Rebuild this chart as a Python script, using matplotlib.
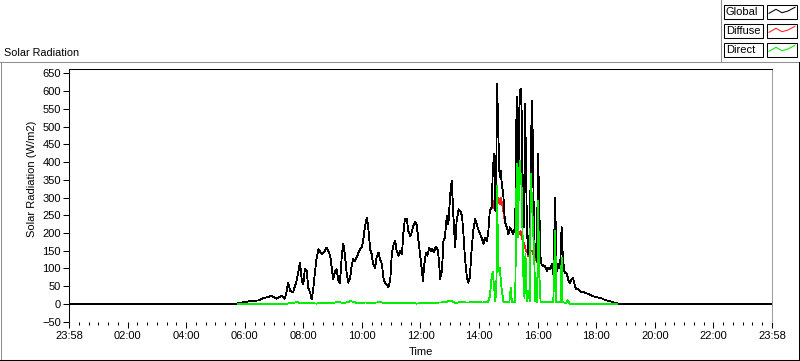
import matplotlib.pyplot as plt
from matplotlib.lines import Line2D
from matplotlib.patches import Rectangle
from matplotlib.ticker import FixedLocator

# minutes after midnight, 23:58 -> 23:58
global_min = [-2, 340, 345, 365, 386, 396, 413, 423, 434, 440,
              444, 447, 451, 457, 464, 468, 471, 475, 478, 481,
              485, 488, 492, 495, 498, 502, 505, 509, 516, 522,
              526, 529, 533, 536, 539, 543, 546, 550, 553, 557,
              560, 563, 567, 570, 574, 577, 580, 584, 587, 591,
              594, 598, 601, 604, 608, 611, 615, 618, 621, 625,
              628, 632, 635, 639, 642, 645, 649, 652, 656, 659,
              662, 666, 669, 673, 676, 680, 683, 686, 690, 693,
              697, 700, 703, 707, 710, 714, 717, 721, 723, 725,
              729, 732, 736, 739, 742, 746, 749, 753, 756, 758,
              762, 765, 768, 772, 775, 779, 782, 785, 789, 792,
              796, 799, 803, 806, 809, 813, 816, 819, 823, 826,
              830, 833, 836, 840, 843, 847, 850, 854, 857, 860,
              864, 866, 869, 871, 873, 874, 875, 877, 880, 882,
              884, 888, 891, 895, 898, 901, 905, 908, 912, 915,
              917, 918, 921, 923, 925, 927, 930, 932, 934, 936,
              939, 942, 946, 948, 951, 953, 956, 959, 961, 964,
              966, 970, 973, 977, 980, 983, 987, 990, 994, 996,
              998, 1000, 1004, 1007, 1009, 1012, 1014, 1018, 1021, 1024,
              1028, 1030, 1033, 1035, 1038, 1041, 1045, 1048, 1052, 1055,
              1059, 1062, 1069, 1076, 1082, 1089, 1096, 1103, 1110, 1117,
              1123, 1127, 1438]
global_val = [0, 0, 2, 7, 10, 16, 23, 15, 23, 15,
              37, 60, 37, 32, 65, 93, 117, 65, 56, 98,
              93, 46, 32, 13, 37, 93, 126, 154, 141, 150,
              159, 150, 136, 102, 70, 93, 98, 65, 60, 140,
              169, 140, 84, 60, 74, 107, 126, 121, 131, 145,
              154, 160, 183, 215, 244, 215, 154, 140, 112, 102,
              131, 145, 126, 112, 74, 60, 54, 48, 65, 136,
              164, 178, 150, 136, 150, 141, 201, 239, 239, 206,
              192, 201, 220, 230, 225, 178, 141, 93, 65, 102,
              145, 136, 159, 150, 154, 145, 161, 154, 121, 70,
              93, 178, 187, 249, 225, 310, 347, 258, 159, 234,
              267, 263, 249, 197, 131, 74, 60, 74, 159, 206,
              239, 225, 211, 197, 187, 169, 187, 178, 206, 263,
              272, 376, 423, 263, 300, 536, 621, 498, 357, 376,
              347, 300, 230, 216, 197, 216, 206, 197, 216, 583,
              470, 282, 592, 607, 555, 263, 216, 564, 413, 206,
              140, 216, 573, 470, 140, 169, 121, 423, 282, 131,
              112, 107, 107, 93, 102, 98, 112, 84, 300, 112,
              93, 112, 102, 216, 150, 93, 88, 84, 65, 60,
              70, 74, 60, 46, 41, 41, 37, 32, 34, 32,
              29, 27, 23, 20, 18, 16, 11, 9, 6, 3,
              1, 0, 0]

# diffuse follows global except under the sunny spikes
diffuse_cut = {866: 270, 869: 290, 873: 280, 874: 300, 875: 290, 877: 300,
               880: 280, 882: 300, 884: 290, 888: 260, 915: 200, 917: 210,
               918: 195, 921: 200, 923: 205, 925: 190, 927: 180, 930: 170,
               932: 160, 934: 150, 936: 150, 939: 135, 942: 150, 946: 150,
               948: 145, 951: 130, 953: 140, 956: 118, 959: 120, 961: 112,
               994: 95, 1007: 95, 1009: 95}

direct_min = [345, 440, 450, 465, 475, 490, 505, 520, 535, 550,
              560, 575, 590, 605, 620, 635, 650, 665, 680, 695,
              710, 725, 740, 755, 770, 780, 790, 800, 815, 830,
              845, 856, 860, 864, 866, 869, 871, 873, 874, 875,
              877, 880, 882, 884, 888, 900, 903, 905, 912, 915,
              917, 921, 925, 929, 931, 933, 936, 939, 942, 944,
              948, 951, 953, 957, 959, 961, 964, 990, 994, 996,
              1005, 1007, 1009, 1016, 1020, 1024, 1120]
direct_val = [0, 0, 2, 5, 2, 3, 1, 4, 2, 6,
              2, 8, 2, 4, 3, 5, 2, 3, 2, 4,
              1, 3, 2, 4, 5, 10, 3, 5, 4, 6,
              4, 6, 20, 80, 90, 45, 8, 30, 100, 333,
              93, 102, 75, 45, 5, 6, 45, 6, 6, 395,
              187, 404, 333, 65, 17, 140, 8, 36, 8, 366,
              234, 131, 8, 6, 291, 93, 5, 5, 206, 5,
              5, 131, 5, 3, 10, 0, 0]

diffuse_val = [diffuse_cut.get(m, v) for m, v in zip(global_min, global_val)]

x_ticks = [-2 + 120 * k for k in range(13)]
x_labels = ['23:58'] + ['%02d:00' % (2 * k) for k in range(1, 12)] + ['23:58']
y_ticks = list(range(-50, 651, 50))

W, H = 800, 361
plt.rcParams['font.family'] = ['Liberation Sans', 'DejaVu Sans']
plt.rcParams['font.size'] = 8

fig = plt.figure(figsize=(W / 100, H / 100), dpi=100)
fig.patch.set_facecolor('white')


def fx(x):
    return x / W


def fy(y):
    return 1 - y / H


ax = fig.add_axes([fx(69), fy(321.7), fx(772) - fx(69), fy(69.3) - fy(321.7)])
ax.plot(global_min, diffuse_val, color='#ff2020', lw=0.6, zorder=2, antialiased=False)
ax.plot(global_min, global_val, color='black', lw=0.6, zorder=3, antialiased=False)
ax.plot(direct_min, direct_val, color='#00ee00', lw=0.6, zorder=4, antialiased=False)

ax.set_xlim(-2, 1438)
ax.set_ylim(-50, 661.3)
ax.set_xticks(x_ticks)
ax.set_xticklabels(x_labels)
ax.xaxis.set_minor_locator(FixedLocator([-2 + 20 * k for k in range(73)]))
ax.set_yticks(y_ticks)
ax.tick_params(axis='y', direction='out', length=4, width=0.75, pad=2)
ax.tick_params(axis='x', which='major', direction='out', length=4.5, width=0.75, pad=2)
ax.tick_params(axis='x', which='minor', direction='out', length=2.2, width=0.75)

ax.spines['bottom'].set_visible(False)
ax.spines['top'].set_linewidth(0.75)
ax.spines['left'].set_linewidth(0.75)
ax.spines['right'].set_color('#a0a0a0')
ax.spines['right'].set_linewidth(0.75)

ax.set_xlabel('Time')
ax.xaxis.set_label_coords(0.5, -0.1)
ax.set_ylabel('Solar Radiation (W/m2)')
ax.yaxis.set_label_coords((37 - 69) / 703, 0.568)

fig.text(fx(4), fy(52.5), 'Solar Radiation', va='center', ha='left', fontsize=7.8)

# panel frame
frame = [((0, 61.5), (W, 61.5), '#909090'),
         ((1, 61.5), (1, 360), '#909090'),
         ((0, 359.5), (W, 359.5), 'black'),
         ((798.5, 61.5), (798.5, 360), 'black'),
         ((720.5, 0), (720.5, 61.5), '#909090')]
for (x0, y0), (x1, y1), c in frame:
    fig.add_artist(Line2D([fx(x0), fx(x1)], [fy(y0), fy(y1)], color=c, lw=0.75,
                          transform=fig.transFigure))

# legend
legend_names = ['Global', 'Diffuse', 'Direct']
legend_colors = ['black', '#ff2020', '#00ee00']
for i, (name, c) in enumerate(zip(legend_names, legend_colors)):
    top = 5 + 19 * i
    for x0, x1 in [(724, 763.3), (767.3, 797.3)]:
        fig.add_artist(Rectangle((fx(x0), fy(top + 13.5)), fx(x1) - fx(x0), fy(top) - fy(top + 13.5),
                                 facecolor='white', edgecolor='black', lw=0.75,
                                 transform=fig.transFigure))
    fig.text(fx(726), fy(top + 7), name, va='center', ha='left', fontsize=8)
    icon_x = [769, 776, 782, 788, 795]
    icon_y = [8.3, 4.3, 7.7, 6, 2.3]
    fig.add_artist(Line2D([fx(v) for v in icon_x], [fy(top + v) for v in icon_y],
                          color=c, lw=0.75, transform=fig.transFigure))

fig.savefig('out.png', dpi=100, facecolor='white')
